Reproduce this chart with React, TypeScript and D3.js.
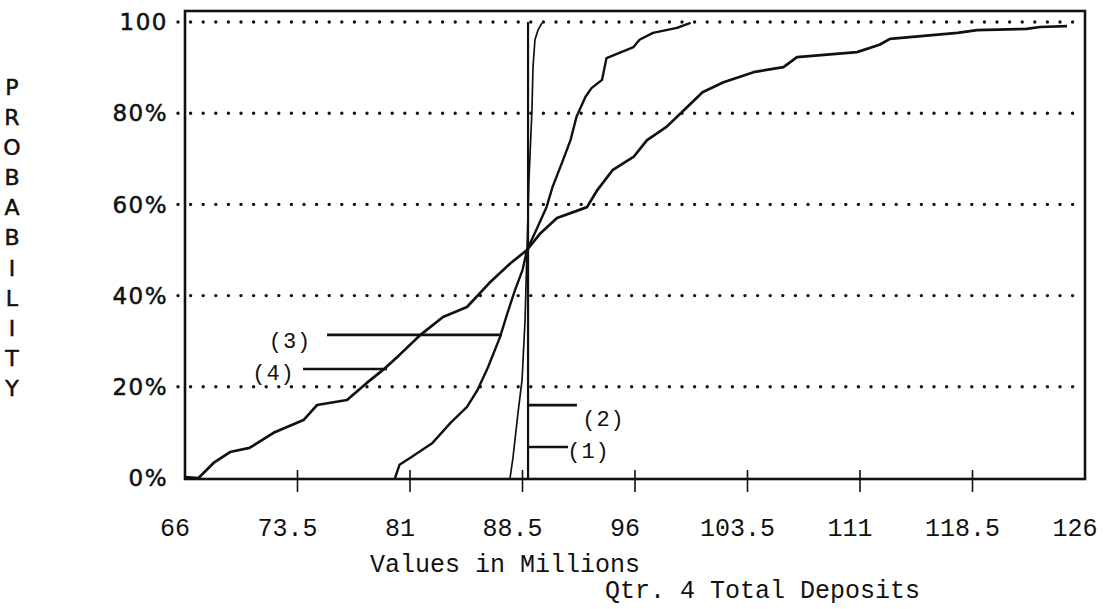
import React from "react";
import * as d3 from "d3";

// x ticks (values in millions) and y ticks (probability %)
const xTicks = [66, 73.5, 81, 88.5, 96, 103.5, 111, 118.5, 126];
const xTickLabels = ["66", "73.5", "81", "88.5", "96", "103.5", "111", "118.5", "126"];
const yTicks = [0, 20, 40, 60, 80, 100];
const yTickLabels = ["0%", "20%", "40%", "60%", "80%", "100"];
const yTitle = "PROBABILITY".split("");

// cumulative curves: [value, probability]
const curve1: [number, number][] = [[88.87, 0], [88.87, 100]];
const curve2: [number, number][] = [
  [87.67, 0], [87.87, 4.6], [88.2, 14.3], [88.47, 21.5], [88.67, 34.6], [88.8, 50],
  [88.93, 65.4], [89.13, 80.7], [89.2, 90.1], [89.33, 96.1], [89.53, 98.2], [89.8, 99.8],
];
const curve3: [number, number][] = [
  [80.0, 0], [80.3, 2.9], [81.0, 4.4], [82.5, 7.7], [83.7, 12.1], [84.8, 15.6], [85.5, 19.3],
  [86.2, 24.3], [87.0, 30.9], [87.5, 36.2], [88.0, 41.2], [88.5, 45.6], [88.8, 50],
  [89.5, 55.0], [90.1, 59.4], [90.5, 63.8], [91.2, 69.7], [91.7, 74.1], [92.1, 79.2],
  [92.7, 83.6], [93.1, 85.5], [93.8, 87.3], [94.1, 92.1], [95.9, 94.5], [96.3, 96.1],
  [97.2, 97.6], [98.8, 98.7], [99.7, 99.8],
];
const curve4: [number, number][] = [
  [66.0, 0.2], [66.9, 0], [67.9, 3.3], [69.0, 5.7], [70.3, 6.6], [71.9, 9.9], [73.9, 12.7],
  [74.8, 16.0], [76.8, 17.1], [78.1, 20.8], [79.2, 23.7], [80.3, 27.0], [81.7, 31.4],
  [83.2, 35.3], [84.8, 37.5], [86.3, 42.8], [87.7, 47.1], [88.8, 50], [89.7, 53.7],
  [90.8, 57.0], [92.8, 59.4], [93.5, 63.2], [94.5, 67.5], [95.9, 70.4], [96.8, 74.1],
  [98.1, 77.0], [99.5, 81.4], [100.5, 84.6], [101.9, 86.8], [103.9, 89.0], [105.9, 90.1],
  [106.8, 92.3], [110.8, 93.4], [112.3, 95.0], [113.0, 96.3], [117.5, 97.6], [118.8, 98.2],
  [122.1, 98.5], [123.0, 98.9], [124.8, 99.1],
];

// leader lines + labels: line from x1 to x2 at y, label at (tx, ty)
const labels = [
  { text: "(3)", x1: 75.47, x2: 87.13, y: 31.4, tx: 73.0, ty: 30.3 },
  { text: "(4)", x1: 73.87, x2: 79.47, y: 23.9, tx: 71.9, ty: 23.2 },
  { text: "(2)", x1: 88.8, x2: 92.13, y: 16.0, tx: 93.9, ty: 13.1 },
  { text: "(1)", x1: 88.87, x2: 91.53, y: 6.8, tx: 92.9, ty: 6.1 },
];

const W = 1109;
const H = 609;
const left = 185, right = 1085, top = 11, bottom = 479;

const x = d3.scaleLinear().domain([66, 126]).range([left, right]);
const y = d3.scaleLinear().domain([0, 100]).range([478, 22]);

const line = d3.line<[number, number]>()
  .x(d => x(d[0]))
  .y(d => y(d[1]));

const mono = "'Liberation Mono', 'DejaVu Sans Mono', monospace";
const sans = "'DejaVu Sans', sans-serif";

export default function App() {
  return (
    <svg width={W} height={H} style={{ position: "absolute", left: 0, top: 0, background: "#fff" }}>
      {/* dotted grid */}
      {yTicks.filter(t => t > 0).map(t => (
        <line key={t} x1={178} x2={right - 3} y1={y(t)} y2={y(t)}
          stroke="#111" strokeWidth={3.4} strokeLinecap="round" strokeDasharray="0 12.6" />
      ))}

      {/* frame */}
      <rect x={left} y={top} width={right - left} height={bottom - top}
        fill="none" stroke="#111" strokeWidth={2.6} />

      {/* x ticks */}
      {xTicks.slice(1, -1).map(t => (
        <line key={t} x1={x(t)} x2={x(t)} y1={470} y2={492} stroke="#111" strokeWidth={1.6} />
      ))}
      {xTicks.map((t, i) => (
        <text key={t} x={x(t) - 10} y={536} textAnchor="middle"
          fontFamily={mono} fontSize={25} fill="#111">{xTickLabels[i]}</text>
      ))}

      {/* y tick labels */}
      {yTicks.map((t, i) => (
        <text key={t} x={168} y={y(t)} dy="0.36em" textAnchor="end"
          fontFamily={sans} fontSize={23} fill="#111" letterSpacing={1.5}
          stroke="#111" strokeWidth={0.5}>{yTickLabels[i]}</text>
      ))}

      {/* vertical axis title */}
      {yTitle.map((c, i) => (
        <text key={i} x={12} y={87 + i * 30.1} dy="0.36em" textAnchor="middle"
          fontFamily={sans} fontSize={22} fill="#111" stroke="#111" strokeWidth={0.5}>{c}</text>
      ))}

      {/* curves */}
      <path d={line(curve4) ?? ""} fill="none" stroke="#111" strokeWidth={2.7} strokeLinejoin="round" />
      <path d={line(curve3) ?? ""} fill="none" stroke="#111" strokeWidth={2.4} strokeLinejoin="round" />
      <path d={line(curve2) ?? ""} fill="none" stroke="#111" strokeWidth={1.7} strokeLinejoin="round" />
      <path d={line(curve1) ?? ""} fill="none" stroke="#111" strokeWidth={2.2} />

      {/* labels */}
      {labels.map(l => (
        <g key={l.text}>
          <line x1={x(l.x1)} x2={x(l.x2)} y1={y(l.y)} y2={y(l.y)} stroke="#111" strokeWidth={2.7} />
          <text x={x(l.tx)} y={y(l.ty)} dy="0.36em" textAnchor="middle"
            fontFamily={mono} fontSize={22} fill="#111" letterSpacing={1}>{l.text}</text>
        </g>
      ))}

      {/* axis titles */}
      <text x={370} y={572} fontFamily={mono} fontSize={25} fill="#111">Values in Millions</text>
      <text x={605} y={598} fontFamily={mono} fontSize={25} fill="#111">Qtr. 4 Total Deposits</text>
    </svg>
  );
}
